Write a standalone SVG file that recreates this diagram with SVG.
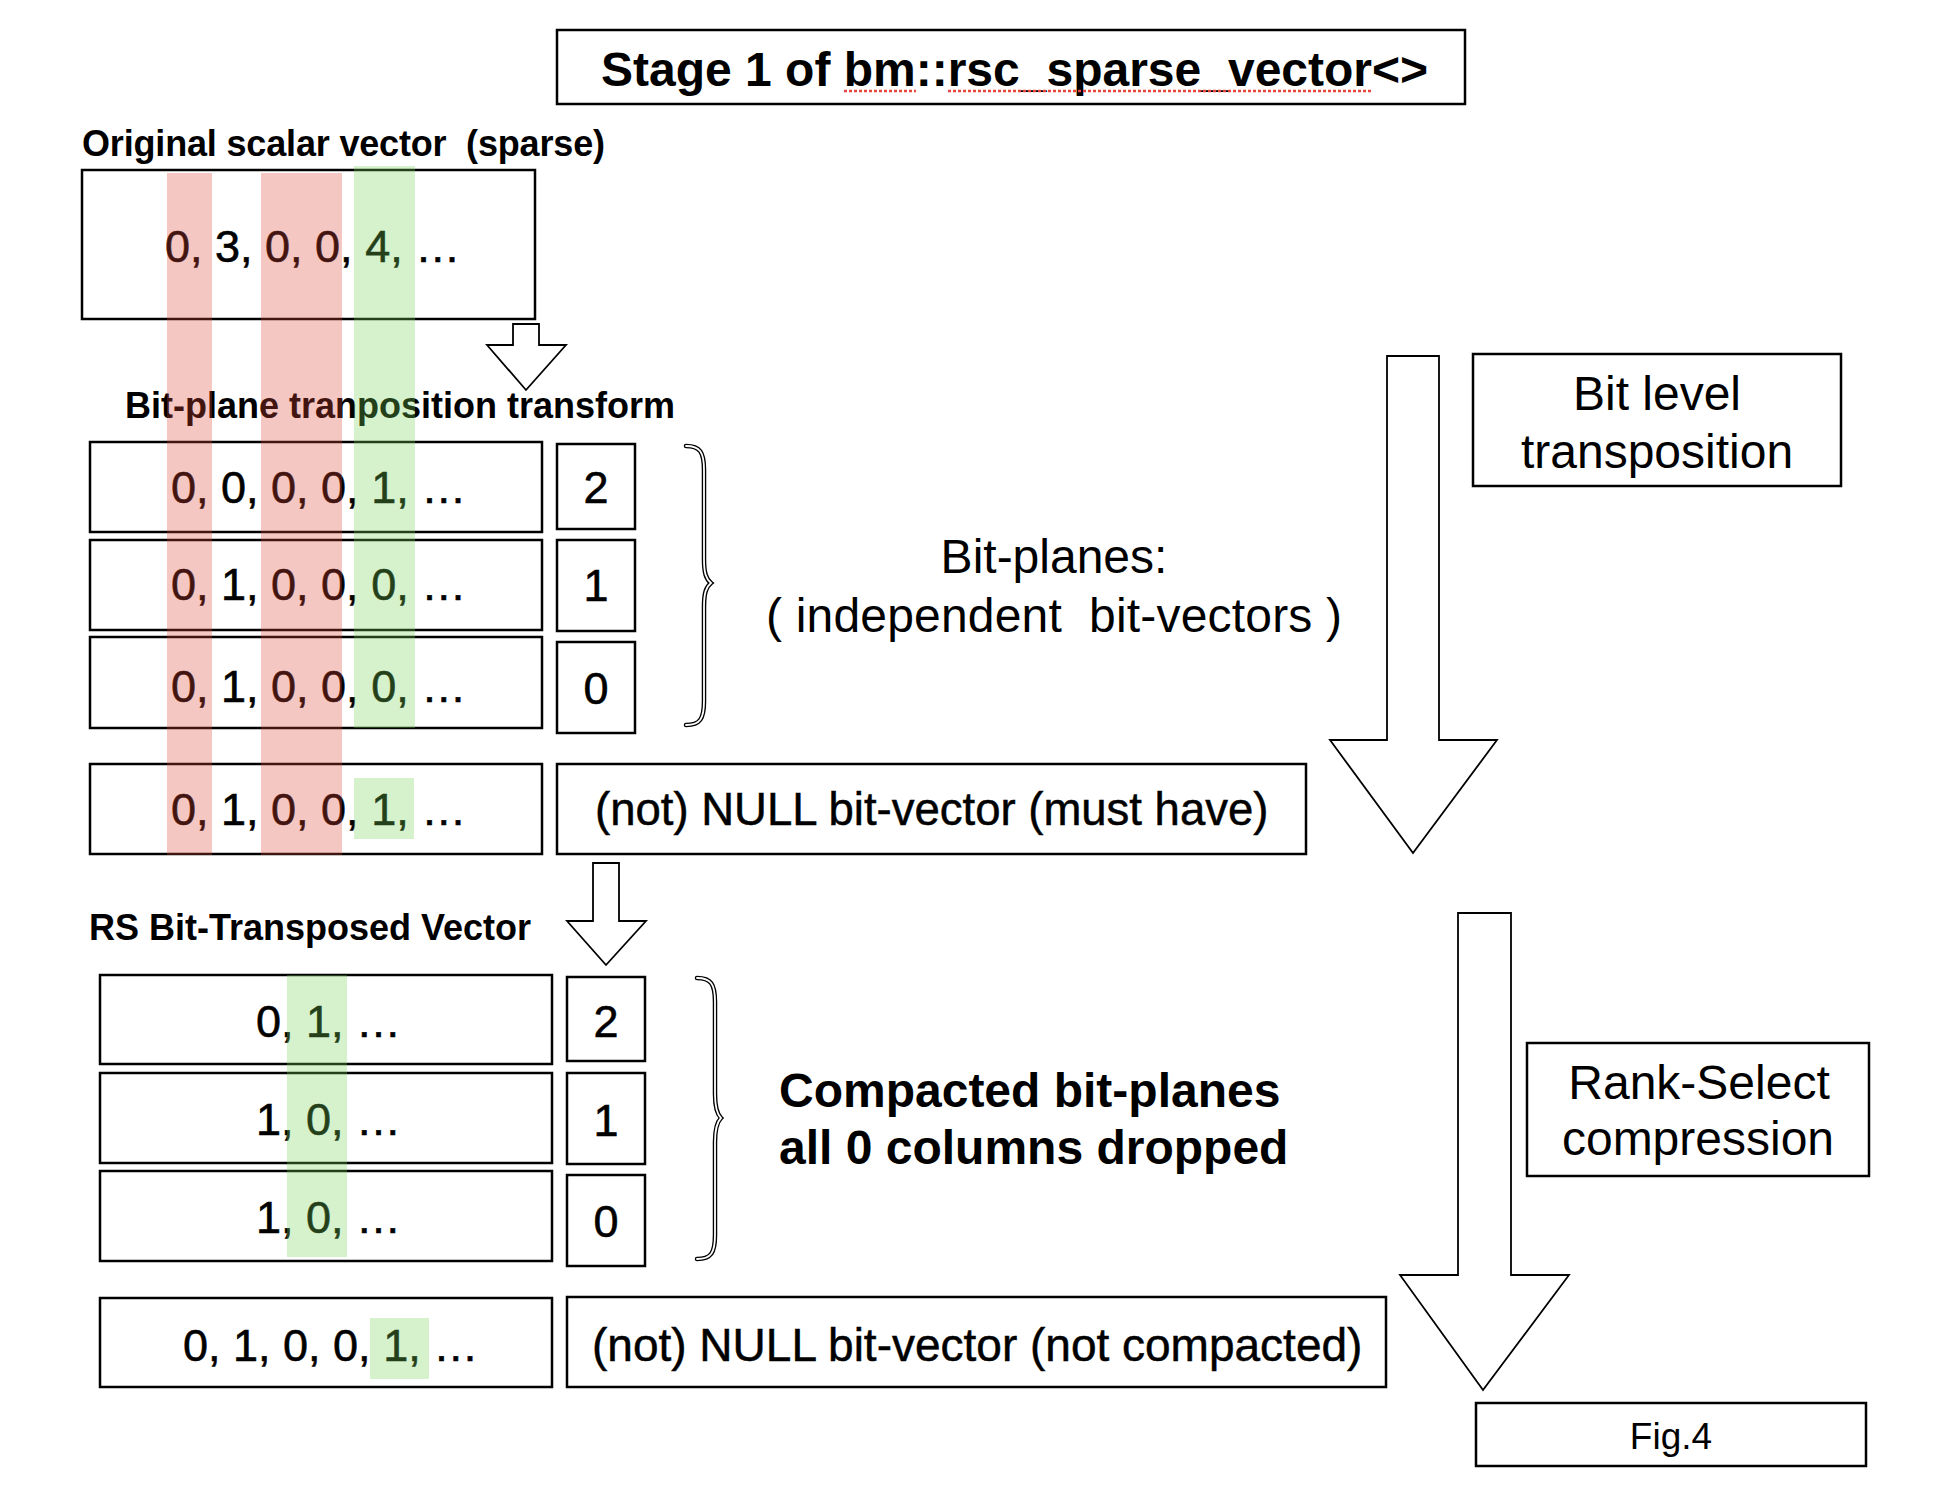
<svg xmlns="http://www.w3.org/2000/svg" width="1940" height="1502" viewBox="0 0 1940 1502">
<style>
.box{fill:#fff;stroke:#000;stroke-width:2.5}
.arrow{fill:#fff;stroke:#000;stroke-width:1.8;stroke-linejoin:miter}
.t{font-family:"Liberation Sans",Arial,Helvetica,sans-serif;fill:#000}
.b{font-weight:bold}
.v{font-size:45px;stroke:#000;stroke-width:0.6}
.nl{stroke:#000;stroke-width:0.5}
.lab{font-size:48px}
.mid{text-anchor:middle}
.braceO{fill:none;stroke:#000;stroke-width:4.5;stroke-linecap:round}
.braceI{fill:none;stroke:#fff;stroke-width:1.8;stroke-linecap:round}
.red{fill:#da4437;fill-opacity:.3}
.grn{fill:#76d458;fill-opacity:.3}
.squig{stroke:#e8453c;stroke-width:2.5;stroke-dasharray:3 2;fill:none}
</style>
<rect width="1940" height="1502" fill="#fff"/>

<g id="title">
<rect class="box" x="557" y="30" width="908" height="74"/>
<text class="t b" x="601" y="86" font-size="48">Stage 1 of bm::rsc_sparse_vector&lt;&gt;</text>
<line class="squig" x1="844" y1="91" x2="916" y2="91"/>
<line class="squig" x1="948" y1="91" x2="1372" y2="91"/>
</g>

<g id="original-vector">
<text class="t b" x="82" y="156" font-size="36" textLength="523" xml:space="preserve">Original scalar vector  (sparse)</text>
<rect class="box" x="82" y="170" width="453" height="149"/>
<text class="t v" x="165" y="262">0, 3, 0, 0, 4, …</text>
</g>

<g id="bitplane-label">
<text class="t b" x="125" y="418" font-size="36">Bit-plane tranposition transform</text>
</g>

<g id="plane-2">
<rect class="box" x="90" y="442" width="452" height="90"/>
<text class="t v" x="171" y="503">0, 0, 0, 0, 1, …</text>
<rect class="box" x="557" y="444" width="78" height="85"/>
<text class="t v mid" x="596" y="503">2</text>
</g>
<g id="plane-1">
<rect class="box" x="90" y="540" width="452" height="90"/>
<text class="t v" x="171" y="600">0, 1, 0, 0, 0, …</text>
<rect class="box" x="557" y="540" width="78" height="91"/>
<text class="t v mid" x="596" y="601">1</text>
</g>
<g id="plane-0">
<rect class="box" x="90" y="637" width="452" height="91"/>
<text class="t v" x="171" y="702">0, 1, 0, 0, 0, …</text>
<rect class="box" x="557" y="642" width="78" height="91"/>
<text class="t v mid" x="596" y="704">0</text>
</g>
<g id="null-vector">
<rect class="box" x="90" y="764" width="452" height="90"/>
<text class="t v" x="171" y="825">0, 1, 0, 0, 1, …</text>
<rect class="box" x="557" y="764" width="749" height="90"/>
<text class="t nl" x="595" y="825" font-size="45.5">(not) NULL bit-vector (must have)</text>
</g>

<g id="bitplanes-brace">
<path class="braceO" d="M686,446 C700,446 704,452 704,470 L704,559 C704,573 706,579 711,583 C706,587 704,593 704,607 L704,701 C704,719 700,725 686,725"/>
<path class="braceI" d="M686,446 C700,446 704,452 704,470 L704,559 C704,573 706,579 711,583 C706,587 704,593 704,607 L704,701 C704,719 700,725 686,725"/>
</g>
<g id="bitplanes-label">
<text class="t lab mid" x="1054" y="573">Bit-planes:</text>
<text class="t lab" x="766" y="632" textLength="576" xml:space="preserve">( independent  bit-vectors )</text>
</g>

<g id="bit-level-box">
<rect class="box" x="1473" y="354" width="368" height="132"/>
<text class="t lab mid" x="1657" y="410">Bit level</text>
<text class="t lab mid" x="1657" y="468">transposition</text>
</g>

<g id="rs-label">
<text class="t b" x="89" y="940" font-size="36">RS Bit-Transposed Vector</text>
</g>

<g id="rs-plane-2">
<rect class="box" x="100" y="975" width="452" height="89"/>
<text class="t v" x="256" y="1037">0, 1, …</text>
<rect class="box" x="567" y="977" width="78" height="84"/>
<text class="t v mid" x="606" y="1037">2</text>
</g>
<g id="rs-plane-1">
<rect class="box" x="100" y="1073" width="452" height="90"/>
<text class="t v" x="256" y="1135">1, 0, …</text>
<rect class="box" x="567" y="1073" width="78" height="91"/>
<text class="t v mid" x="606" y="1136">1</text>
</g>
<g id="rs-plane-0">
<rect class="box" x="100" y="1171" width="452" height="90"/>
<text class="t v" x="256" y="1233">1, 0, …</text>
<rect class="box" x="567" y="1175" width="78" height="91"/>
<text class="t v mid" x="606" y="1237">0</text>
</g>
<g id="rs-null-vector">
<rect class="box" x="100" y="1298" width="452" height="89"/>
<text class="t v" x="183" y="1361">0, 1, 0, 0, 1, …</text>
<rect class="box" x="567" y="1297" width="819" height="90"/>
<text class="t nl" x="592" y="1361" font-size="46">(not) NULL bit-vector (not compacted)</text>
</g>

<g id="compacted-brace">
<path class="braceO" d="M697,978 C711,978 715,984 715,1002 L715,1094 C715,1108 717,1114 721,1118 C717,1122 715,1128 715,1142 L715,1235 C715,1253 711,1259 697,1259"/>
<path class="braceI" d="M697,978 C711,978 715,984 715,1002 L715,1094 C715,1108 717,1114 721,1118 C717,1122 715,1128 715,1142 L715,1235 C715,1253 711,1259 697,1259"/>
</g>
<g id="compacted-label">
<text class="t b lab" x="779" y="1107">Compacted bit-planes</text>
<text class="t b lab" x="779" y="1164">all 0 columns dropped</text>
</g>

<g id="rank-select-box">
<rect class="box" x="1527" y="1043" width="342" height="133"/>
<text class="t lab mid" x="1699" y="1099">Rank-Select</text>
<text class="t lab mid" x="1698" y="1155">compression</text>
</g>

<g id="fig-label">
<rect class="box" x="1476" y="1403" width="390" height="63"/>
<text class="t mid" x="1671" y="1449" font-size="37">Fig.4</text>
</g>

<g id="connectors">
<polygon class="arrow" points="513,324 539,324 539,345 566,345 526,390 487,345 513,345"/>
<polygon class="arrow" points="593,863 619,863 619,921 646,921 606,965 567,921 593,921"/>
<polygon class="arrow" points="1387,356 1439,356 1439,740 1497,740 1413,853 1330,740 1387,740"/>
<polygon class="arrow" points="1458,913 1511,913 1511,1275 1569,1275 1483,1390 1400,1275 1458,1275"/>
</g>

<g id="column-highlights">
<rect class="red" x="167" y="173" width="45" height="682"/>
<rect class="red" x="261" y="173" width="81" height="682"/>
<rect class="grn" x="354" y="166" width="61" height="562"/>
<rect class="grn" x="354" y="778" width="60" height="61"/>
<rect class="grn" x="287" y="975" width="60" height="282"/>
<rect class="grn" x="370" y="1318" width="59" height="61"/>
</g>
</svg>
